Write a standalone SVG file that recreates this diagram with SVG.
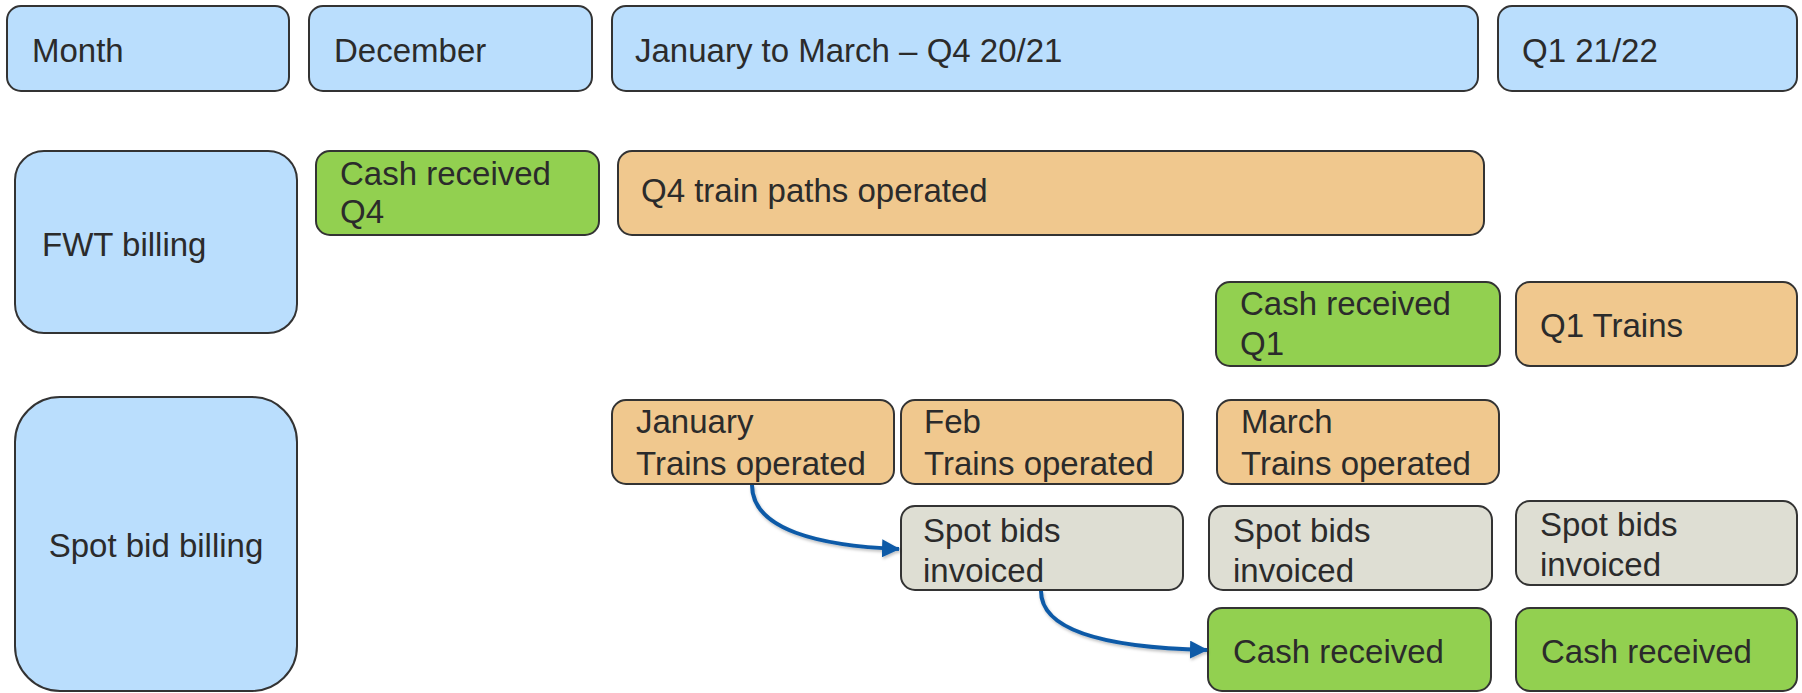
<svg xmlns="http://www.w3.org/2000/svg" width="1802" height="693" viewBox="0 0 1802 693">
  <style>
    .box { stroke: #333333; stroke-width: 2; }
    .hdr { fill: #BADEFD; }
    .lane { fill: #BADEFD; }
    .ops { fill: #F0C88E; }
    .cash { fill: #92D050; }
    .inv { fill: #DEDED3; }
    text { font-family: "Liberation Sans", Arial, sans-serif; font-size: 33px; fill: #2B2B2B; }
    .conn { fill: none; stroke: #0D5AA7; stroke-width: 4; }
  </style>
  <defs>
    <marker id="arrowhead" markerUnits="userSpaceOnUse" markerWidth="18" markerHeight="18" refX="17" refY="9" orient="auto">
      <path d="M0,0 L18,9 L0,18 Z" fill="#0D5AA7"/>
    </marker>
    <filter id="soft" x="-10%" y="-10%" width="120%" height="130%">
      <feDropShadow dx="1" dy="2" stdDeviation="1.5" flood-color="#000000" flood-opacity="0.25"/>
    </filter>
  </defs>

  <!-- Header row -->
  <g id="month">
    <rect class="box hdr" x="7" y="6" width="282" height="85" rx="14"/>
    <text x="32" y="62">Month</text>
  </g>
  <g id="december">
    <rect class="box hdr" x="309" y="6" width="283" height="85" rx="14"/>
    <text x="334" y="62">December</text>
  </g>
  <g id="jan-mar">
    <rect class="box hdr" x="612" y="6" width="866" height="85" rx="14"/>
    <text x="635" y="62">January to March – Q4 20/21</text>
  </g>
  <g id="q1-2122">
    <rect class="box hdr" x="1498" y="6" width="299" height="85" rx="14"/>
    <text x="1522" y="62">Q1 21/22</text>
  </g>

  <!-- FWT billing lane -->
  <g id="fwt-billing">
    <rect class="box lane" x="15" y="151" width="282" height="182" rx="29"/>
    <text x="42" y="256">FWT billing</text>
  </g>
  <g id="cash-q4">
    <rect class="box cash" x="316" y="151" width="283" height="84" rx="14"/>
    <text x="340" y="185">Cash received</text>
    <text x="340" y="223">Q4</text>
  </g>
  <g id="q4-paths">
    <rect class="box ops" x="618" y="151" width="866" height="84" rx="14"/>
    <text x="641" y="202">Q4 train paths operated</text>
  </g>
  <g id="cash-q1">
    <rect class="box cash" x="1216" y="282" width="284" height="84" rx="14"/>
    <text x="1240" y="315">Cash received</text>
    <text x="1240" y="355">Q1</text>
  </g>
  <g id="q1-trains">
    <rect class="box ops" x="1516" y="282" width="281" height="84" rx="14"/>
    <text x="1540" y="337">Q1 Trains</text>
  </g>

  <!-- Spot bid billing lane -->
  <g id="spot-billing">
    <rect class="box lane" x="15" y="397" width="282" height="294" rx="45"/>
    <text x="156" y="557" text-anchor="middle">Spot bid billing</text>
  </g>
  <g id="jan-trains">
    <rect class="box ops" x="612" y="400" width="282" height="84" rx="14"/>
    <text x="636" y="433">January</text>
    <text x="636" y="475">Trains operated</text>
  </g>
  <g id="feb-trains">
    <rect class="box ops" x="901" y="400" width="282" height="84" rx="14"/>
    <text x="924" y="433">Feb</text>
    <text x="924" y="475">Trains operated</text>
  </g>
  <g id="mar-trains">
    <rect class="box ops" x="1217" y="400" width="282" height="84" rx="14"/>
    <text x="1241" y="433">March</text>
    <text x="1241" y="475">Trains operated</text>
  </g>
  <g id="spot-inv-1">
    <rect class="box inv" x="901" y="506" width="282" height="84" rx="14"/>
    <text x="923" y="542">Spot bids</text>
    <text x="923" y="582">invoiced</text>
  </g>
  <g id="spot-inv-2">
    <rect class="box inv" x="1209" y="506" width="283" height="84" rx="14"/>
    <text x="1233" y="542">Spot bids</text>
    <text x="1233" y="582">invoiced</text>
  </g>
  <g id="spot-inv-3">
    <rect class="box inv" x="1516" y="501" width="281" height="84" rx="14"/>
    <text x="1540" y="536">Spot bids</text>
    <text x="1540" y="576">invoiced</text>
  </g>
  <g id="cash-spot-1">
    <rect class="box cash" x="1208" y="608" width="283" height="83" rx="14"/>
    <text x="1233" y="663">Cash received</text>
  </g>
  <g id="cash-spot-2">
    <rect class="box cash" x="1516" y="608" width="281" height="83" rx="14"/>
    <text x="1541" y="663">Cash received</text>
  </g>

  <!-- Connectors -->
  <g id="connectors" filter="url(#soft)">
    <path class="conn" d="M752,485 C752,530 820,546 899,549" marker-end="url(#arrowhead)"/>
    <path class="conn" d="M1041,591 C1041,635 1120,648 1207,650" marker-end="url(#arrowhead)"/>
  </g>
</svg>
